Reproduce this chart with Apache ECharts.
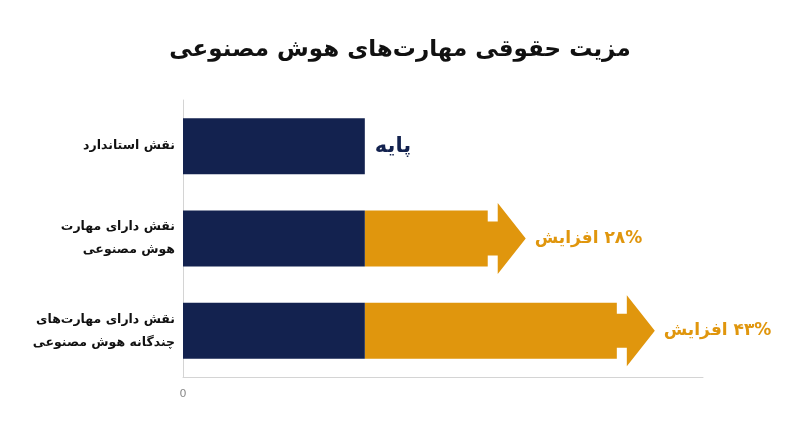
<!DOCTYPE html>
<html style="height: 100%">
<head>
<meta charset="utf-8">
<script src="https://cdn.jsdelivr.net/npm/echarts@6/dist/echarts.min.js"></script>
</head>
<body style="height: 100%; margin: 0; background: #fff">
<div id="container" dir="rtl" style="height: 447px; width: 800px; direction: rtl"></div>
<script type="text/javascript">

// data
var roles = ['نقش استاندارد', 'نقش دارای مهارت\nهوش مصنوعی', 'نقش دارای مهارت‌های\nچندگانه هوش مصنوعی'];
var baseValues = [100, 100, 100];
var arrowTips = [null, 188.5, 259.5];
var arrowTexts = ['', '۲۸% افزایش', '۴۳% افزایش'];
var baseText = 'پایه';

var FONT = 'DejaVu Sans';
var NAVY = '#13224f';
var ORANGE = '#e0960d';

var arrowData = [];
for (var i = 0; i < roles.length; i++) {
  if (arrowTips[i] != null) arrowData.push([i, baseValues[i], arrowTips[i], arrowTexts[i]]);
}

function renderArrow(params, api) {
  var idx = api.value(0);
  var s = api.coord([api.value(1), idx]);
  var t = api.coord([api.value(2), idx]);
  var cy = s[1];
  var sx = s[0], tx = t[0];
  var nx = tx - 38, hx = tx - 28;
  var pts = [
    [sx, cy - 28], [nx, cy - 28], [nx, cy - 17], [hx, cy - 17], [hx, cy - 35.5],
    [tx, cy], [hx, cy + 35.5], [hx, cy + 17], [nx, cy + 17], [nx, cy + 28], [sx, cy + 28]
  ];
  return {
    type: 'group',
    children: [{
      type: 'polygon',
      shape: { points: pts },
      style: { fill: ORANGE }
    }, {
      type: 'text',
      x: tx + 9,
      y: cy,
      style: {
        text: arrowData[params.dataIndex][3],
        fill: ORANGE,
        font: 'bold 17px "' + FONT + '"',
        align: 'left',
        verticalAlign: 'middle'
      }
    }]
  };
}

var dom = document.getElementById('container');
var myChart = echarts.init(dom, null, { renderer: 'canvas' });

var option = {
  backgroundColor: '#ffffff',
  animation: false,
  title: {
    text: 'مزیت حقوقی مهارت‌های هوش مصنوعی',
    left: 'center',
    top: 34,
    textStyle: { fontFamily: FONT, fontSize: 23, fontWeight: 'bold', color: '#111111' }
  },
  grid: { left: 183, right: 97, top: 100, bottom: 70 },
  xAxis: {
    type: 'value',
    min: 0,
    max: 286,
    interval: 1000,
    splitLine: { show: false },
    axisTick: { show: false },
    axisLine: { show: true, lineStyle: { color: '#d4d4d4' } },
    axisLabel: {
      color: '#8a8a8a', fontSize: 11, fontFamily: FONT, margin: 12,
      showMaxLabel: false,
      formatter: function (v) { return v === 0 ? '0' : ''; }
    }
  },
  yAxis: {
    type: 'category',
    inverse: true,
    data: roles,
    axisTick: { show: false },
    axisLine: { show: true, lineStyle: { color: '#d4d4d4' } },
    axisLabel: {
      color: '#111111', fontSize: 12.5, fontWeight: 'bold', fontFamily: FONT,
      lineHeight: 23, margin: 8, align: 'right'
    }
  },
  series: [{
    type: 'bar',
    name: 'base',
    barWidth: 56,
    itemStyle: { color: NAVY },
    data: baseValues.map(function (v, i) {
      if (i !== 0) return v;
      return {
        value: v,
        label: {
          show: true, position: 'right', distance: 10,
          formatter: baseText, color: NAVY,
          fontSize: 21, fontWeight: 'bold', fontFamily: FONT
        }
      };
    })
  }, {
    type: 'custom',
    name: 'increase',
    renderItem: renderArrow,
    encode: { x: [1, 2], y: 0 },
    data: arrowData
  }]
};

myChart.setOption(option);

</script>
</body>
</html>
